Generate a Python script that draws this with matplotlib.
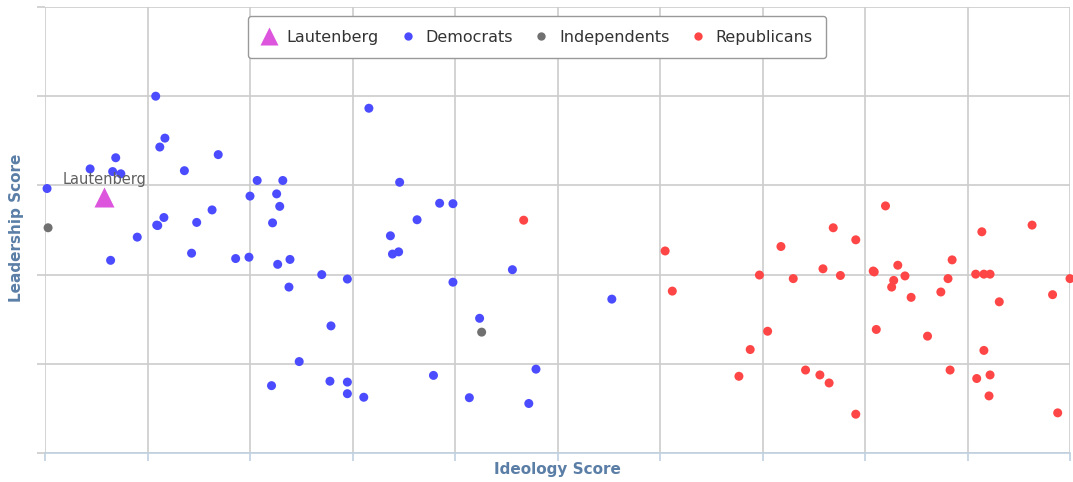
import numpy as np
import matplotlib.pyplot as plt
from matplotlib.lines import Line2D

# ideology score (x) / leadership score (y), both 0..1
dem_x = [0.002, 0.044, 0.069, 0.066, 0.074, 0.108, 0.117, 0.112, 0.169, 0.136,
         0.207, 0.232, 0.200, 0.226, 0.229, 0.163, 0.116, 0.109, 0.110, 0.148,
         0.222, 0.090, 0.064, 0.143, 0.186, 0.199, 0.227, 0.239, 0.270, 0.295,
         0.238, 0.279, 0.248, 0.221, 0.278, 0.295, 0.295, 0.316, 0.346, 0.385,
         0.398, 0.363, 0.337, 0.339, 0.345, 0.456, 0.398, 0.424, 0.479, 0.311,
         0.379, 0.414, 0.472, 0.553]
dem_y = [0.593, 0.637, 0.662, 0.631, 0.626, 0.800, 0.706, 0.686, 0.669, 0.633,
         0.611, 0.611, 0.576, 0.581, 0.553, 0.545, 0.528, 0.511, 0.510, 0.517,
         0.516, 0.484, 0.432, 0.448, 0.436, 0.439, 0.423, 0.434, 0.400, 0.390,
         0.372, 0.285, 0.205, 0.151, 0.161, 0.159, 0.133, 0.773, 0.607, 0.560,
         0.559, 0.523, 0.487, 0.446, 0.451, 0.411, 0.383, 0.302, 0.188, 0.125,
         0.174, 0.124, 0.111, 0.345]

ind_x = [0.003, 0.426]
ind_y = [0.505, 0.271]

rep_x = [0.605, 0.612, 0.718, 0.697, 0.730, 0.769, 0.791, 0.759, 0.776, 0.820,
         0.808, 0.809, 0.832, 0.828, 0.826, 0.839, 0.845, 0.885, 0.881, 0.874,
         0.914, 0.963, 0.908, 0.916, 0.922, 0.931, 0.983, 1.000, 0.705, 0.688,
         0.677, 0.811, 0.861, 0.916, 0.742, 0.756, 0.765, 0.883, 0.909, 0.922,
         0.921, 0.791, 0.988, 0.467]
rep_y = [0.453, 0.363, 0.463, 0.399, 0.391, 0.505, 0.478, 0.413, 0.398, 0.554,
         0.408, 0.406, 0.421, 0.387, 0.372, 0.397, 0.349, 0.433, 0.391, 0.361,
         0.496, 0.511, 0.401, 0.401, 0.401, 0.339, 0.355, 0.391, 0.273, 0.232,
         0.172, 0.277, 0.262, 0.230, 0.186, 0.175, 0.157, 0.186, 0.167, 0.175,
         0.128, 0.087, 0.090, 0.522]

laut_x = [0.058]
laut_y = [0.575]
laut_name = 'Lautenberg'

c_dem = '#4b4bff'
c_ind = '#707070'
c_rep = '#ff4646'
c_laut = '#dd55dd'
grid_c = '#cccccc'
title_c = '#5a7ea6'

W, H = 1073, 482
fig = plt.figure(figsize=(W / 100, H / 100), dpi=100)
ax = fig.add_axes([45 / W, (H - 453) / H, 1025 / W, 446 / H])

ax.scatter(dem_x, dem_y, s=42, color=c_dem, edgecolors='none', zorder=3, clip_on=False)
ax.scatter(ind_x, ind_y, s=42, color=c_ind, edgecolors='none', zorder=3, clip_on=False)
ax.scatter(rep_x, rep_y, s=42, color=c_rep, edgecolors='none', zorder=3, clip_on=False)
ax.plot(laut_x, laut_y, '^', ms=14, color=c_laut, mec='none', zorder=4)
ax.annotate(laut_name, (laut_x[0], laut_y[0]), xytext=(0, 7), textcoords='offset points',
            ha='center', va='bottom', fontsize=10.5, color='#606060', zorder=5)

ax.set_xlim(0, 1)
ax.set_ylim(0, 1)
ax.set_xticks(np.arange(0, 1.01, 0.1))
ax.set_yticks(np.arange(0, 1.01, 0.2))
ax.set_xticklabels([])
ax.set_yticklabels([])
ax.grid(True, color=grid_c, linewidth=1.2)
ax.set_axisbelow(True)
for side in ['top', 'right', 'left']:
    ax.spines[side].set_visible(False)
ax.spines['bottom'].set_color('#c0d0e0')
ax.spines['bottom'].set_linewidth(1.2)
ax.tick_params(axis='x', length=6, width=1.2, color='#c0d0e0')
ax.tick_params(axis='y', length=6, width=1.2, color=grid_c)

ax.set_xlabel('Ideology Score', fontsize=11, fontweight='bold', color=title_c)
ax.set_ylabel('Leadership Score', fontsize=11, fontweight='bold', color=title_c)
ax.xaxis.set_label_coords(0.5, (453 - 462) / 446)
ax.yaxis.set_label_coords((24 - 45) / 1025, (453 - 228) / 446)

handles = [
    Line2D([], [], ls='none', marker='^', ms=13, color=c_laut, mec='none'),
    Line2D([], [], ls='none', marker='o', ms=6, color=c_dem, mec='none'),
    Line2D([], [], ls='none', marker='o', ms=6, color=c_ind, mec='none'),
    Line2D([], [], ls='none', marker='o', ms=6, color=c_rep, mec='none'),
]
leg = fig.legend(handles, ['Lautenberg', 'Democrats', 'Independents', 'Republicans'],
                 loc='upper center', bbox_to_anchor=(537 / W, 1 - 8 / H), ncol=4,
                 fontsize=11.5, frameon=True, fancybox=True, handlelength=1.0,
                 handletextpad=0.6, columnspacing=1.3, borderpad=0.85,
                 labelcolor='#333333')
leg.get_frame().set_edgecolor('#999999')
leg.get_frame().set_linewidth(1.0)
leg.get_frame().set_alpha(1)

fig.savefig('out.png', dpi=100)
